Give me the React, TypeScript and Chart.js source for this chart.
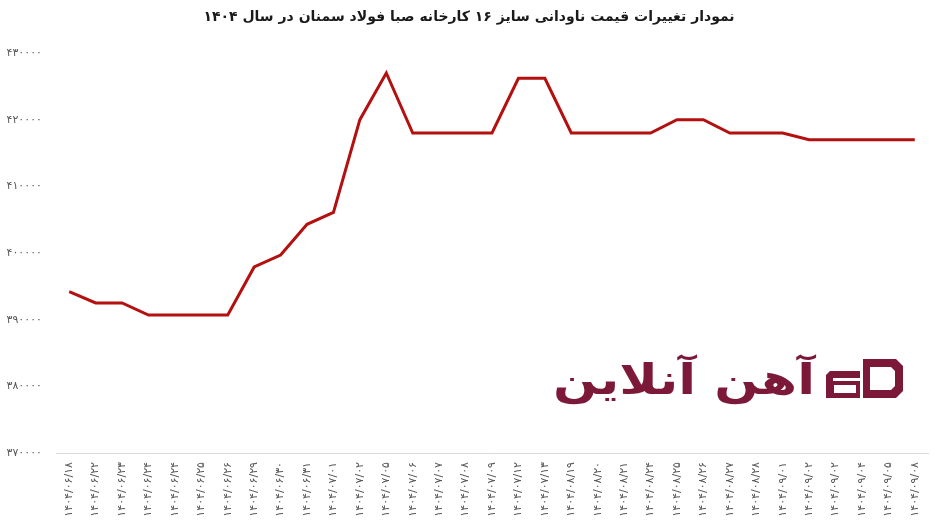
import React, { useEffect, useRef } from "react";
import { Chart, registerables } from "chart.js";

Chart.register(...registerables);

const TITLE = "نمودار تغییرات قیمت ناودانی سایز ۱۶ کارخانه صبا فولاد سمنان در سال ۱۴۰۴";
const LOGO_TEXT = "آهن آنلاین";

const dates = [
  "1404/06/18", "1404/06/22", "1404/06/23", "1404/06/24", "1404/06/24",
  "1404/06/25", "1404/06/26", "1404/06/29", "1404/06/30", "1404/06/31",
  "1404/07/01", "1404/07/02", "1404/07/05", "1404/07/06", "1404/07/07",
  "1404/07/08", "1404/07/09", "1404/07/12", "1404/07/13", "1404/08/19",
  "1404/08/20", "1404/08/21", "1404/08/24", "1404/08/25", "1404/08/26",
  "1404/08/27", "1404/08/28", "1404/09/01", "1404/09/02", "1404/09/02",
  "1404/09/04", "1404/09/05", "1404/09/08",
];

const prices = [
  394200, 392500, 392500, 390700, 390700,
  390700, 390700, 397900, 399700, 404300,
  406100, 420000, 427000, 418000, 418000,
  418000, 418000, 426200, 426200, 418000,
  418000, 418000, 418000, 420000, 420000,
  418000, 418000, 418000, 417000, 417000,
  417000, 417000, 417000,
];

const yMin = 370000;
const yMax = 430000;
const yStep = 10000;

const FA = ["۰", "۱", "۲", "۳", "۴", "۵", "۶", "۷", "۸", "۹"];
const toFa = (s: string | number) => String(s).replace(/[0-9]/g, (d) => FA[Number(d)]);

const LINE_COLOR = "#b3100f";
const LOGO_COLOR = "#7c1838";

const decorPlugin = {
  id: "decor",
  afterDraw(chart: any) {
    const ctx = chart.ctx as CanvasRenderingContext2D;
    ctx.save();
    // title
    ctx.fillStyle = "#1a1a1a";
    ctx.font = "bold 14px 'DejaVu Sans'";
    ctx.textAlign = "center";
    ctx.textBaseline = "middle";
    ctx.direction = "rtl";
    ctx.fillText(TITLE, 469, 17);

    // logo text
    ctx.fillStyle = LOGO_COLOR;
    ctx.font = "bold 42px 'DejaVu Sans'";
    ctx.textBaseline = "alphabetic";
    ctx.direction = "ltr";
    ctx.textAlign = "left";
    const w = ctx.measureText(LOGO_TEXT).width;
    const targetW = 262;
    ctx.save();
    ctx.translate(553, 394);
    ctx.scale(targetW / w, 1);
    ctx.fillText(LOGO_TEXT, 0, 0);
    ctx.restore();

    // logo icon "a"
    ctx.fillStyle = LOGO_COLOR;
    ctx.beginPath();
    ctx.moveTo(830, 371);
    ctx.lineTo(860, 371);
    ctx.lineTo(860, 398);
    ctx.lineTo(826, 398);
    ctx.lineTo(826, 375);
    ctx.closePath();
    ctx.fill();
    ctx.fillStyle = "#ffffff";
    ctx.fillRect(833, 378, 27, 3);
    ctx.fillRect(834, 385, 22, 8);
    // logo icon "D"
    ctx.fillStyle = LOGO_COLOR;
    ctx.beginPath();
    ctx.moveTo(863, 359);
    ctx.lineTo(896, 359);
    ctx.lineTo(903, 366);
    ctx.lineTo(903, 391);
    ctx.lineTo(896, 398);
    ctx.lineTo(863, 398);
    ctx.closePath();
    ctx.fill();
    ctx.fillStyle = "#ffffff";
    ctx.beginPath();
    ctx.moveTo(870, 367);
    ctx.lineTo(891, 367);
    ctx.lineTo(895, 371);
    ctx.lineTo(895, 386);
    ctx.lineTo(891, 390);
    ctx.lineTo(870, 390);
    ctx.closePath();
    ctx.fill();
    ctx.restore();
  },
};

export default function App() {
  const ref = useRef<HTMLCanvasElement | null>(null);

  useEffect(() => {
    if (!ref.current) return;
    const chart = new Chart(ref.current, {
      type: "line",
      data: {
        labels: dates,
        datasets: [
          {
            data: prices,
            borderColor: LINE_COLOR,
            borderWidth: 3,
            pointRadius: 0,
            pointHoverRadius: 0,
            tension: 0,
            fill: false,
          },
        ],
      },
      options: {
        animation: false,
        responsive: false,
        maintainAspectRatio: false,
        layout: { padding: { top: 53, right: 11, left: 0, bottom: 0 } },
        plugins: {
          legend: { display: false },
          title: { display: false },
          tooltip: { enabled: false },
        },
        scales: {
          x: {
            offset: true,
            grid: { display: false, drawTicks: false },
            border: { display: true, color: "#d9d9d9", width: 1 },
            ticks: {
              autoSkip: false,
              minRotation: 90,
              maxRotation: 90,
              padding: 9,
              color: "#595959",
              font: { family: "'DejaVu Sans'", size: 11 },
              callback: (_v: any, i: number) => toFa(dates[i]),
            },
            afterFit: (s: any) => {
              s.height = 76;
            },
          },
          y: {
            min: yMin,
            max: yMax,
            grid: { display: false, drawTicks: false },
            border: { display: false },
            ticks: {
              stepSize: yStep,
              padding: 14,
              color: "#595959",
              font: { family: "'DejaVu Sans'", size: 11 },
              callback: (v: any) => toFa(v),
            },
            afterFit: (s: any) => {
              s.width = 56;
            },
          },
        },
      },
      plugins: [decorPlugin],
    });
    return () => chart.destroy();
  }, []);

  return (
    <div style={{ position: "fixed", left: 0, top: 0, width: 939, height: 529, background: "#fff" }}>
      <canvas ref={ref} width={939} height={529} style={{ width: 939, height: 529 }} />
    </div>
  );
}
